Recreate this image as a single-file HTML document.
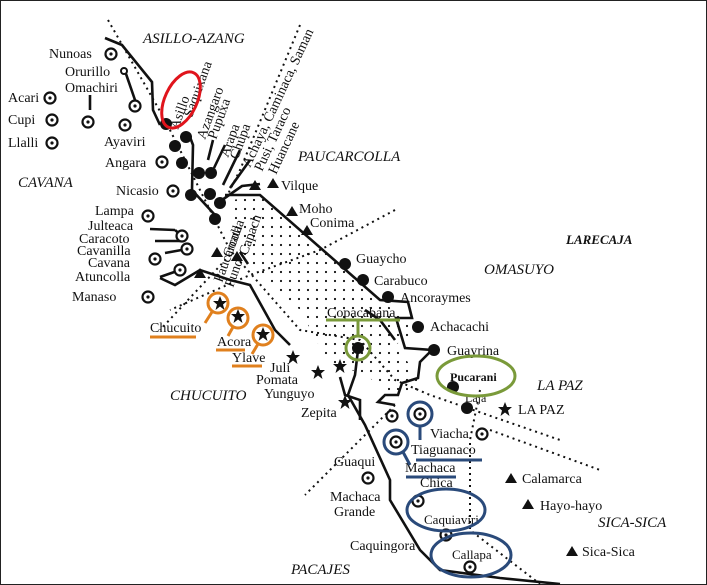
<!DOCTYPE html>
<html><head><meta charset="utf-8"><style>
body{margin:0;background:#fff}
svg{display:block}
text{font-family:"Liberation Serif",serif;font-size:14px;fill:#111}
.i{font-style:italic;font-size:15px}
</style></head><body>
<svg width="707" height="585" viewBox="0 0 707 585" xmlns="http://www.w3.org/2000/svg">
<defs>
<pattern id="dots" width="9" height="9" patternUnits="userSpaceOnUse"><circle cx="2" cy="2" r="1.1" fill="#111"/></pattern>
<g id="cd"><circle r="5.5" fill="#fff" stroke="#111" stroke-width="2.2"/><circle r="1.6" fill="#111"/></g>
<g id="tr"><path d="M0,-6 L6,4 L-6,4Z" fill="#111"/></g>
<g id="st"><path d="M0,-7 L2,-2 L7,-2 L3,1.5 L4.5,7 L0,3.5 L-4.5,7 L-3,1.5 L-7,-2 L-2,-2Z" fill="#111"/></g>
</defs>
<rect x="0.5" y="0.5" width="706" height="584" fill="#fff" stroke="#222"/>
<path d="M232,200 L262,196 L380,300 L420,330 L395,345 L425,385 L400,398 L360,372 L330,366 L300,310 L240,255Z" fill="url(#dots)"/>
<g fill="none" stroke="#111" stroke-width="2" stroke-dasharray="2 4">
<path d="M108,20 L165,120 L230,250 L300,330 L360,340 L395,380 L430,395 L560,440"/>
<path d="M300,25 L240,170 L225,200"/>
<path d="M395,210 L320,250 L250,275 L170,310"/>
<path d="M230,255 L160,330"/>
<path d="M395,405 L320,480 L305,495"/>
<path d="M480,390 L470,440 L470,530 L540,584"/>
<path d="M490,430 L600,470"/>
</g>
<g fill="none" stroke="#111" stroke-width="2.6">
<path d="M105,38 L122,45 L152,82 L153,110 L160,125"/>
<path d="M190,137 L193,145 L192,190 L215,215"/>
<path d="M225,195 L260,195 L380,300 L408,302 L412,318 L396,318 L405,348 L432,350 L420,362 L418,378 L402,383 L398,395 L385,395 L378,402 L395,405"/>
<path d="M358,350 L355,375 L348,395 L365,425 L390,480 L390,500 L420,550 L440,570 L500,578 L560,584"/>
<path d="M222,200 L242,186 L260,184"/>
<path d="M160,278 L175,285 L200,270 L230,280 L250,285 L275,330 L290,345"/>
<path d="M365,310 L380,320 L395,340"/>
<path d="M175,230 L182,236 M150,229 L175,230 M155,241 L182,241 M165,253 L187,249 M160,277 L180,270 M90,95 L90,110 M125,71 L135,100"/>
<path d="M208,160 L213,140 M214,168 L225,145 M223,185 L240,150 M230,188 L250,160 M240,252 L248,264"/>
<path d="M340,377 L345,395 L360,400 L360,420"/>
</g>
<use href="#cd" x="111" y="54"/><use href="#cd" x="88" y="122"/><use href="#cd" x="135" y="106"/>
<use href="#cd" x="50" y="98"/><use href="#cd" x="52" y="120"/><use href="#cd" x="52" y="143"/>
<use href="#cd" x="125" y="125"/><use href="#cd" x="162" y="162"/><use href="#cd" x="173" y="191"/>
<use href="#cd" x="148" y="216"/><use href="#cd" x="182" y="236"/><use href="#cd" x="187" y="249"/>
<use href="#cd" x="155" y="259"/><use href="#cd" x="180" y="270"/><use href="#cd" x="148" y="297"/>
<use href="#cd" x="392" y="416"/><use href="#cd" x="420" y="414"/><use href="#cd" x="396" y="442"/>
<use href="#cd" x="482" y="434"/><use href="#cd" x="368" y="478"/><use href="#cd" x="418" y="501"/>
<use href="#cd" x="446" y="535"/><use href="#cd" x="470" y="567"/>
<circle cx="124" cy="71" r="3" fill="#fff" stroke="#111" stroke-width="2"/>
<g fill="#111">
<circle cx="166" cy="124" r="6"/><circle cx="186" cy="137" r="6"/><circle cx="175" cy="146" r="6"/>
<circle cx="182" cy="163" r="6"/><circle cx="199" cy="173" r="6"/><circle cx="211" cy="173" r="6"/>
<circle cx="191" cy="195" r="6"/><circle cx="210" cy="194" r="6"/><circle cx="220" cy="203" r="6"/>
<circle cx="215" cy="219" r="6"/><circle cx="345" cy="264" r="6"/><circle cx="363" cy="280" r="6"/>
<circle cx="388" cy="297" r="6"/><circle cx="418" cy="327" r="6"/><circle cx="434" cy="350" r="6"/>
<circle cx="358" cy="348" r="6"/><circle cx="453" cy="387" r="6"/><circle cx="467" cy="408" r="6"/>
</g>
<use href="#tr" x="255" y="186"/><use href="#tr" x="273" y="184"/><use href="#tr" x="292" y="212"/>
<use href="#tr" x="307" y="231"/><use href="#tr" x="217" y="253"/><use href="#tr" x="237" y="257"/>
<use href="#tr" x="200" y="274"/><use href="#tr" x="511" y="479"/><use href="#tr" x="528" y="505"/>
<use href="#tr" x="572" y="552"/>
<use href="#st" x="220" y="303"/><use href="#st" x="238" y="316"/><use href="#st" x="263" y="334"/>
<use href="#st" x="293" y="357"/><use href="#st" x="318" y="372"/><use href="#st" x="340" y="366"/>
<use href="#st" x="345" y="402"/><use href="#st" x="505" y="409"/>
<text class="i" x="143" y="43">ASILLO-AZANG</text>
<text x="49" y="58">Nunoas</text><text x="65" y="76">Orurillo</text><text x="65" y="92">Omachiri</text>
<text x="8" y="102">Acari</text><text x="8" y="124">Cupi</text><text x="8" y="147">Llalli</text>
<text x="104" y="146">Ayaviri</text><text x="105" y="167">Angara</text>
<text class="i" x="18" y="187">CAVANA</text><text x="116" y="195">Nicasio</text>
<text x="95" y="215">Lampa</text><text x="88" y="230">Julteaca</text><text x="79" y="243">Caracoto</text>
<text x="77" y="255">Cavanilla</text><text x="88" y="267">Cavana</text><text x="75" y="281">Atuncolla</text><text x="72" y="301">Manaso</text>
<text class="i" x="298" y="161">PAUCARCOLLA</text><text x="281" y="190">Vilque</text>
<text x="299" y="213">Moho</text><text x="310" y="227">Conima</text>
<text x="356" y="263">Guaycho</text><text x="374" y="285">Carabuco</text><text x="400" y="302">Ancoraymes</text>
<text class="i" x="566" y="244" style="font-weight:bold;font-size:13px">LARECAJA</text>
<text class="i" x="484" y="274">OMASUYO</text>
<text x="430" y="331">Achacachi</text><text x="447" y="355">Guayrina</text>
<text x="450" y="381" style="font-weight:bold;font-size:12px">Pucarani</text><text x="465" y="402" style="font-size:12px">Laja</text>
<text x="518" y="414">LA PAZ</text><text class="i" x="537" y="390">LA PAZ</text>
<text x="430" y="438">Viacha</text><text x="411" y="454">Tiaguanaco</text>
<text x="405" y="472">Machaca</text><text x="420" y="487">Chica</text>
<text x="522" y="483">Calamarca</text><text x="540" y="510">Hayo-hayo</text>
<text class="i" x="598" y="527">SICA-SICA</text><text x="582" y="556">Sica-Sica</text>
<text x="334" y="466">Guaqui</text><text x="330" y="501">Machaca</text><text x="334" y="516">Grande</text>
<text x="350" y="550">Caquingora</text><text class="i" x="291" y="574">PACAJES</text>
<text x="424" y="524" style="font-size:13px">Caquiaviri</text><text x="452" y="559" style="font-size:13px">Callapa</text>
<text x="301" y="417">Zepita</text><text x="264" y="398">Yunguyo</text><text x="256" y="384">Pomata</text><text x="270" y="372">Juli</text>
<text class="i" x="170" y="400">CHUCUITO</text>
<text x="150" y="332">Chucuito</text><text x="217" y="346">Acora</text><text x="232" y="362">Ylave</text>
<text x="327" y="317">Copacabana</text>
<g style="font-size:13px">
<text transform="translate(178,130) rotate(-70)">Asillo</text>
<text transform="translate(192,118) rotate(-70)">Saquixana</text>
<text transform="translate(205,140) rotate(-70)">Azangaro</text>
<text transform="translate(216,140) rotate(-70)">Pupuxa</text>
<text transform="translate(228,158) rotate(-70)">Arapa</text>
<text transform="translate(238,160) rotate(-70)">Chupa</text>
<text transform="translate(250,168) rotate(-65)">Achaya, Caminaca, Saman</text>
<text transform="translate(262,172) rotate(-65)">Pusi, Taraco</text>
<text transform="translate(276,175) rotate(-65)">Huancane</text>
<text transform="translate(231,258) rotate(-70)">Coata</text>
<text transform="translate(222,283) rotate(-70)">Paucarcolla</text>
<text transform="translate(233,288) rotate(-70)">Puno</text>
<text transform="translate(247,256) rotate(-70)">Capach</text>
</g>
<g fill="none" stroke-width="3">
<ellipse cx="181" cy="100" rx="16" ry="30" transform="rotate(25 181 100)" stroke="#e0141c"/>
<g stroke="#e0801e">
<circle cx="218" cy="303" r="10"/><circle cx="238" cy="318" r="10"/><circle cx="263" cy="335" r="10"/>
<path d="M212,312 L205,323 M233,327 L228,336 M258,344 L252,354 M150,337 L196,337 M216,350 L245,350 M232,366 L262,366"/>
</g>
<g stroke="#7a9a3a">
<circle cx="358" cy="348" r="12"/><ellipse cx="476" cy="376" rx="39" ry="20"/>
<path d="M326,320 L400,320 M358,320 L358,336"/>
</g>
<g stroke="#2a4a7a">
<circle cx="420" cy="414" r="12"/><circle cx="396" cy="442" r="12"/>
<ellipse cx="446" cy="510" rx="39" ry="21"/><ellipse cx="471" cy="555" rx="40" ry="22"/>
<path d="M420,426 L420,440 M403,452 L410,465 M416,460 L482,460 M406,477 L456,477"/>
</g>
</g>
</svg>
</body></html>
